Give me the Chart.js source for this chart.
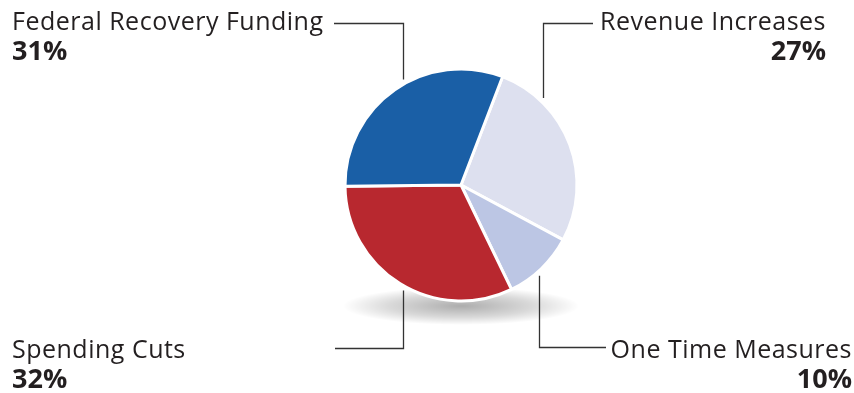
<!DOCTYPE html>
<html>
<head>
<meta charset="utf-8">
<script src="https://cdn.jsdelivr.net/npm/chart.js@4/dist/chart.umd.min.js"></script>
<style>
  html, body { margin: 0; padding: 0; background: #fff; }
  #wrap { width: 854px; height: 393px; position: relative; }
</style>
</head>
<body>
<div id="wrap"><canvas id="myChart" width="854" height="393"></canvas></div>
<script>
// data, in drawing order (clockwise from the top-right edge)
const categories = ["Revenue Increases", "One Time Measures", "Spending Cuts", "Federal Recovery Funding"];
const shares = [27, 10, 32, 31];
const sliceColors = ["#dde0ef", "#bcc6e4", "#b8282f", "#1a5fa6"];

// where each label sits, and which side the text hangs
const labelSpots = [
  { x: 826, y: 30, align: "right", lineX: 543, lineTo: 593, lineY: 23, top: true },
  { x: 852, y: 358, align: "right", lineX: 539, lineTo: 606, lineY: 347, top: false },
  { x: 12, y: 358, align: "left", lineX: 403, lineTo: 335, lineY: 348, top: false },
  { x: 12, y: 30, align: "left", lineX: 403, lineTo: 334, lineY: 23, top: true }
];

const shadowPlugin = {
  id: "shadow",
  beforeDatasetsDraw(chart) {
    const arc = chart.getDatasetMeta(0).data[0];
    const ctx = chart.ctx;
    ctx.save();
    ctx.translate(arc.x, arc.y + arc.outerRadius + 5);
    ctx.scale(1, 0.16);
    const g = ctx.createRadialGradient(0, 0, 0, 0, 0, 118);
    g.addColorStop(0, "rgba(0,0,0,0.32)");
    g.addColorStop(0.6, "rgba(0,0,0,0.15)");
    g.addColorStop(1, "rgba(0,0,0,0)");
    ctx.fillStyle = g;
    ctx.beginPath();
    ctx.arc(0, 0, 118, 0, Math.PI * 2);
    ctx.fill();
    ctx.restore();
  }
};

const labelPlugin = {
  id: "labels",
  afterDraw(chart) {
    const ctx = chart.ctx;
    const arc = chart.getDatasetMeta(0).data[0];
    const cx = arc.x, cy = arc.y, r = arc.outerRadius;
    ctx.save();
    categories.forEach((name, i) => {
      const s = labelSpots[i];
      const half = Math.sqrt(Math.max(r * r - (s.lineX - cx) * (s.lineX - cx), 0));
      const edgeY = s.top ? cy - half - 5 : cy + half + 5;
      // leader line
      ctx.strokeStyle = "#333";
      ctx.lineWidth = 1.3;
      ctx.beginPath();
      ctx.moveTo(s.lineTo, s.lineY + 0.5);
      ctx.lineTo(s.lineX + 0.5, s.lineY + 0.5);
      ctx.lineTo(s.lineX + 0.5, edgeY);
      ctx.stroke();
      // text
      ctx.fillStyle = "#231f20";
      ctx.textAlign = s.align;
      ctx.textBaseline = "alphabetic";
      ctx.letterSpacing = "0.5px";
      ctx.font = "25px 'Open Sans'";
      ctx.fillText(name, s.x, s.y);
      ctx.letterSpacing = "0px";
      ctx.font = "bold 27px 'Open Sans'";
      ctx.fillText(shares[i] + "%", s.x, s.y + 30);
    });
    ctx.restore();
  }
};

new Chart(document.querySelector("#myChart"), {
  type: "pie",
  data: {
    labels: categories,
    datasets: [{
      data: shares,
      backgroundColor: sliceColors,
      borderColor: "#ffffff",
      borderWidth: 3
    }]
  },
  options: {
    responsive: false,
    animation: false,
    rotation: 21,
    radius: 116,
    layout: { padding: { left: 168, right: 100, top: 40, bottom: 63 } },
    plugins: {
      legend: { display: false },
      tooltip: { enabled: false }
    }
  },
  plugins: [shadowPlugin, labelPlugin]
});
</script>
</body>
</html>
